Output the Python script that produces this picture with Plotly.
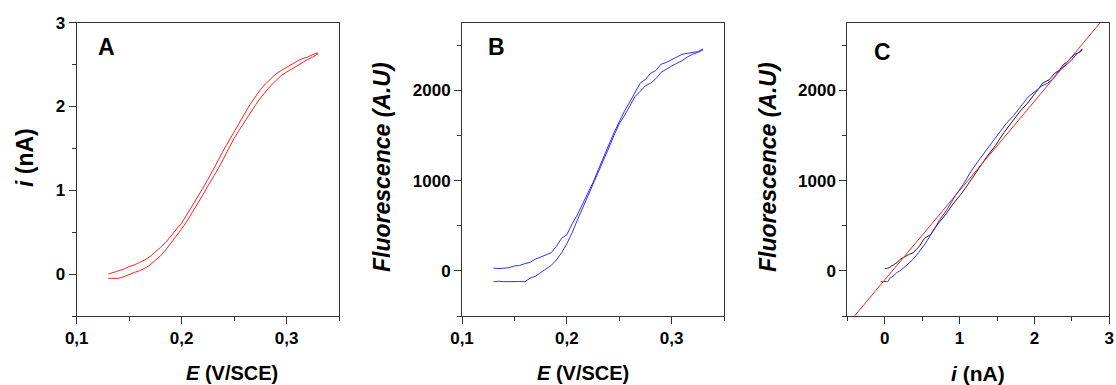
import plotly.graph_objects as go

# ---------------- data ----------------
E = [0.130, 0.135, 0.140, 0.145, 0.150, 0.155, 0.160, 0.165, 0.170, 0.175,
     0.180, 0.185, 0.190, 0.195, 0.200, 0.205, 0.210, 0.215, 0.220, 0.225,
     0.230, 0.235, 0.240, 0.245, 0.250, 0.255, 0.260, 0.265, 0.270, 0.275,
     0.280, 0.285, 0.290, 0.295, 0.300, 0.305, 0.310, 0.315, 0.320, 0.325, 0.330]

# current (nA), panel A
i_upper = [0.00, 0.02, 0.04, 0.06, 0.09, 0.11, 0.14, 0.17, 0.21, 0.26,
           0.32, 0.38, 0.46, 0.53, 0.61, 0.71, 0.81, 0.91, 1.02, 1.13,
           1.24, 1.36, 1.48, 1.59, 1.70, 1.81, 1.92, 2.02, 2.11, 2.20,
           2.27, 2.33, 2.39, 2.43, 2.47, 2.50, 2.54, 2.57, 2.59, 2.62, 2.64]
i_lower = [-0.05, -0.05, -0.05, -0.03, 0.00, 0.02, 0.04, 0.07, 0.11, 0.16,
           0.22, 0.29, 0.37, 0.45, 0.54, 0.63, 0.73, 0.84, 0.94, 1.05,
           1.15, 1.26, 1.38, 1.50, 1.62, 1.72, 1.82, 1.92, 2.01, 2.10,
           2.18, 2.25, 2.31, 2.37, 2.41, 2.45, 2.49, 2.53, 2.56, 2.59, 2.63]

# fluorescence (A.U), panel B
F_upper = [30, 25, 30, 35, 55, 60, 80, 95, 130, 155,
           180, 200, 270, 360, 400, 520, 620, 740, 850, 980,
           1120, 1260, 1390, 1530, 1650, 1770, 1870, 1980, 2080, 2120,
           2190, 2220, 2290, 2310, 2340, 2370, 2400, 2410, 2420, 2430, 2460]
F_lower = [-120, -115, -120, -118, -115, -118, -120, -80, -60, -20,
           10, 60, 120, 200, 300, 420, 560, 690, 830, 960,
           1100, 1230, 1360, 1500, 1630, 1720, 1830, 1930, 1990, 2050,
           2080, 2130, 2200, 2240, 2270, 2300, 2330, 2370, 2400, 2420, 2450]

# linear fit, panel C
fit_slope = 990.0
fit_intercept = -100.0

E_ticks = [0.1, 0.2, 0.3]
E_ticklabels = ["0,1", "0,2", "0,3"]
i_ticks = [0, 1, 2, 3]
F_ticks = [0, 1000, 2000]

# ---------------- figure ----------------
FONT = "Liberation Sans, Arial, sans-serif"
RED = "#ff2020"
BLUE = "#3030ff"

fig = go.Figure()

fig.add_trace(go.Scatter(x=E, y=i_upper, mode="lines", line=dict(color=RED, width=1),
                         xaxis="x", yaxis="y", showlegend=False))
fig.add_trace(go.Scatter(x=E, y=i_lower, mode="lines", line=dict(color=RED, width=1),
                         xaxis="x", yaxis="y", showlegend=False))

fig.add_trace(go.Scatter(x=E, y=F_upper, mode="lines", line=dict(color=BLUE, width=1),
                         xaxis="x2", yaxis="y2", showlegend=False))
fig.add_trace(go.Scatter(x=E, y=F_lower, mode="lines", line=dict(color=BLUE, width=1),
                         xaxis="x2", yaxis="y2", showlegend=False))

fit_x = [-0.5, 3.0]
fit_y = [fit_slope * v + fit_intercept for v in fit_x]
fig.add_trace(go.Scatter(x=i_upper, y=F_upper, mode="lines", line=dict(color="#202020", width=1),
                         xaxis="x3", yaxis="y3", showlegend=False))
fig.add_trace(go.Scatter(x=i_lower, y=F_lower, mode="lines", line=dict(color=BLUE, width=1),
                         xaxis="x3", yaxis="y3", showlegend=False))
fig.add_trace(go.Scatter(x=fit_x, y=fit_y, mode="lines", line=dict(color=RED, width=1),
                         xaxis="x3", yaxis="y3", showlegend=False))

W, H = 1116, 385
ydom = [(H - 316) / H, (H - 22.7) / H]
tickfont = dict(family=FONT, size=17, color="black", weight="bold")

def xax(dom, rng, tv, tt, minor_dtick, anchor):
    return dict(domain=dom, range=rng, tickvals=tv, ticktext=tt, anchor=anchor,
                automargin=False,
                showline=True, mirror=True, linecolor="#333", linewidth=1,
                ticks="outside", ticklen=7, tickcolor="#333", showgrid=False, zeroline=False,
                tickfont=tickfont,
                minor=dict(ticks="outside", ticklen=4, tickcolor="#333", dtick=minor_dtick,
                           tick0=0, showgrid=False))

def yax(rng, tv, minor_dtick, anchor):
    return dict(domain=ydom, range=rng, tickvals=tv, anchor=anchor,
                automargin=False,
                showline=True, mirror=True, linecolor="#333", linewidth=1,
                ticks="outside", ticklen=7, tickcolor="#333", showgrid=False, zeroline=False,
                tickfont=tickfont,
                minor=dict(ticks="outside", ticklen=4, tickcolor="#333", dtick=minor_dtick,
                           tick0=0, showgrid=False))

fig.update_layout(
    width=W, height=H,
    margin=dict(l=0, r=0, t=0, b=0, autoexpand=False),
    paper_bgcolor="white", plot_bgcolor="white",
    xaxis=xax([76.7 / W, 339 / W], [0.1, 0.35], E_ticks, E_ticklabels, 0.05, "y"),
    yaxis=yax([-0.5, 3], [0, 1, 2, 3], 0.5, "x"),
    xaxis2=xax([462 / W, 724 / W], [0.1, 0.35], E_ticks, E_ticklabels, 0.05, "y2"),
    yaxis2=yax([-500, 2750], F_ticks, 500, "x2"),
    xaxis3=xax([847.3 / W, 1109.3 / W], [-0.5, 3], i_ticks, [str(v) for v in i_ticks], 0.5, "y3"),
    yaxis3=yax([-500, 2750], F_ticks, 500, "x3"),
)

def ann(text, x, y, size, angle=0):
    fig.add_annotation(text=text, x=x / W, y=1 - y / H, xref="paper", yref="paper",
                       showarrow=False, textangle=angle, xanchor="center", yanchor="middle",
                       font=dict(family=FONT, size=size, color="black", weight="bold"))

ann("<i>E</i> (V/SCE)", 231.7, 373, 20)
ann("<i>E</i> (V/SCE)", 583, 373, 20)
ann("<i>i</i> (nA)", 978, 373, 21)
ann("<i>i</i> (nA)", 25, 158, 23, -90)
ann("<i>Fluorescence (A.U)</i>", 382, 167, 23, -90)
ann("<i>Fluorescence (A.U)</i>", 768, 167, 23, -90)
ann("A", 106, 47, 23)
ann("B", 496.7, 47, 23)
ann("C", 882.7, 52, 23)

fig.write_html("out.html",
               config={"displayModeBar": False},
               post_script="document.body.style.margin='0px';document.body.style.overflow='hidden';")
